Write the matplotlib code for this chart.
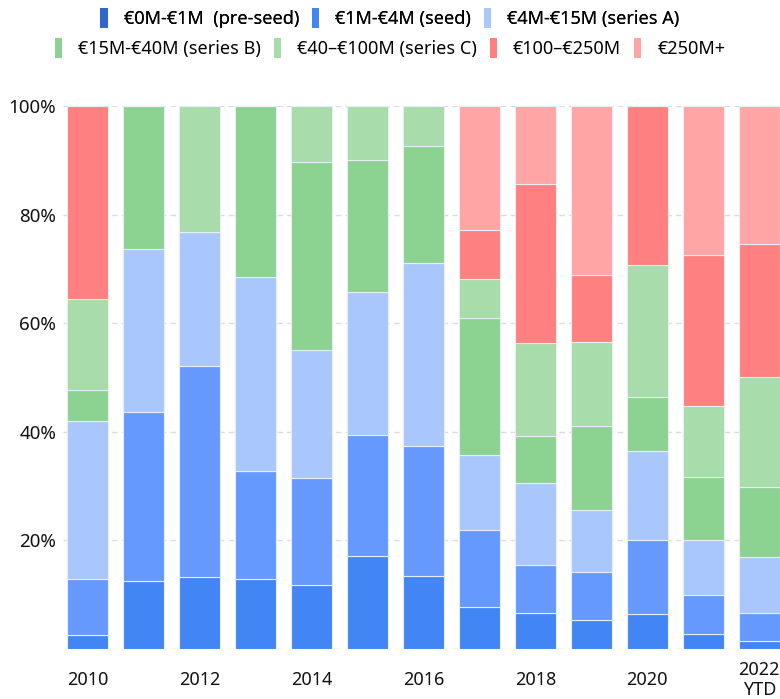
import numpy as np
import matplotlib
matplotlib.use("Agg")
import matplotlib.pyplot as plt
from matplotlib.patches import Patch

plt.rcParams['font.family'] = ['Noto Sans', 'DejaVu Sans']

# --- Data (share of funding by round size, %) ---
years = ['2010', '2011', '2012', '2013', '2014', '2015', '2016',
         '2017', '2018', '2019', '2020', '2021', '2022\nYTD']
labels = ['€0M-€1M  (pre-seed)', '€1M-€4M (seed)', '€4M-€15M (series A)',
          '€15M-€40M (series B)', '€40–€100M (series C)', '€100–€250M', '€250M+']

pre_seed = [2.5, 12.6, 13.2, 12.9, 11.8, 17.1, 13.4, 7.7, 6.6, 5.4, 6.4, 2.8, 1.5]
seed     = [10.4, 31.1, 38.9, 19.9, 19.7, 22.3, 23.9, 14.2, 8.8, 8.8, 13.7, 7.1, 5.1]
series_a = [29.0, 30.0, 24.7, 35.7, 23.6, 26.3, 33.8, 13.9, 15.1, 11.4, 16.4, 10.2, 10.3]
series_b = [5.8, 26.3, 0.0, 31.5, 34.5, 24.4, 21.5, 25.1, 8.8, 15.5, 9.9, 11.6, 12.9]
series_c = [16.7, 0.0, 23.2, 0.0, 10.4, 9.9, 7.4, 7.3, 17.0, 15.5, 24.4, 13.1, 20.3]
m100_250 = [35.6, 0.0, 0.0, 0.0, 0.0, 0.0, 0.0, 8.9, 29.4, 12.3, 29.2, 27.8, 24.4]
m250     = [0.0, 0.0, 0.0, 0.0, 0.0, 0.0, 0.0, 22.9, 14.3, 31.1, 0.0, 27.4, 25.5]

series = [pre_seed, seed, series_a, series_b, series_c, m100_250, m250]
bar_colors = ['#4285f4', '#6699fd', '#aac7fb', '#8cd291', '#a8dcaa', '#ff8080', '#ffa5a5']
legend_colors = ['#3366cc', '#4285f4', '#aac7fb', '#8cd291', '#a8dcaa', '#ff8080', '#ffa5a5']

fig = plt.figure(figsize=(7.8, 6.99), dpi=100)
ax = fig.add_axes([63 / 780, 50 / 699, 717 / 780, 543 / 699])

x = np.arange(len(years))
bottom = np.zeros(len(years))
for vals, col in zip(series, bar_colors):
    vals = np.array(vals)
    ax.bar(x, vals, bottom=bottom, width=0.73, color=col,
           edgecolor='#e8eef8', linewidth=0.8, zorder=2)
    bottom += vals

ax.set_xlim(-0.4375, 12.37)
ax.set_ylim(0, 100)

ax.set_yticks([0, 20, 40, 60, 80, 100])
ax.set_yticklabels(['', '20%', '40%', '60%', '80%', '100%'])
ax.set_xticks(x[::2])
ax.set_xticklabels(years[::2])
ax.tick_params(axis='both', length=0, labelsize=13, colors='#111111')
ax.tick_params(axis='y', pad=5, labelsize=13.5)
ax.tick_params(axis='x', pad=22)
for lbl in ax.get_xticklabels():
    lbl.set_verticalalignment('center')
    lbl.set_linespacing(1.15)

ax.grid(axis='y', color='#dddddd', linestyle=(0, (4, 3)), linewidth=1, zorder=0)
for s in ax.spines.values():
    s.set_visible(False)

# --- Legend in two centred rows ---
handles = [Patch(facecolor=c, edgecolor='none') for c in legend_colors]
leg_kw = dict(frameon=False, fontsize=13, handlelength=0.4, handleheight=1.3,
              handletextpad=0.9, columnspacing=0.7, borderpad=0, borderaxespad=0)
leg1 = fig.legend(handles[:3], labels[:3], ncol=3, loc='center',
                  bbox_to_anchor=(0.5, 1 - 18 / 699), **leg_kw)
fig.add_artist(leg1)
fig.legend(handles[3:], labels[3:], ncol=4, loc='center',
           bbox_to_anchor=(0.5, 1 - 48 / 699), **leg_kw)

fig.savefig('out.png', dpi=100)
